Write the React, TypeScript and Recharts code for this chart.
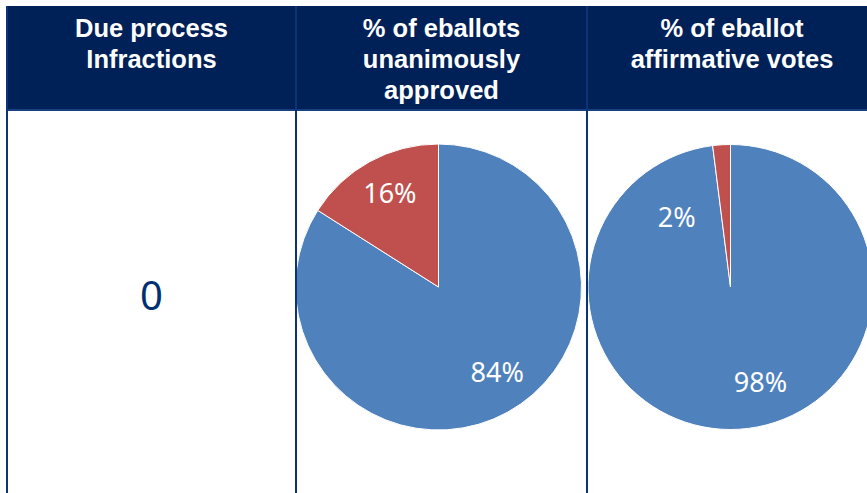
import { Cell, Pie, PieChart } from "recharts"

// header cells of the table
const headerLines = [
  ["Due process", "Infractions"],
  ["% of eballots", "unanimously", "approved"],
  ["% of eballot", "affirmative votes"],
]

const infractions = 0

const unanimousNames = ["Unanimously approved", "Not unanimous"]
const unanimousValues = [84, 16]

const affirmativeNames = ["Affirmative", "Other"]
const affirmativeValues = [98, 2]

const sliceColors = ["#4F81BD", "#C0504D"]

const NAVY = "#002157"
const LINE = "#0b3478"
const W = 867
const H = 493
// column edges of the table (the last one runs past the page)
const COLS = [7, 296, 587, 877]
const HEAD_TOP = 6
const HEAD_BOTTOM = 110

const toRows = (names: string[], values: number[]) =>
  names.map((name, i) => ({ name, value: values[i] }))

interface LabelPlacement {
  shift: number[]
  dist: number[]
}

// Excel nudges its labels, so each pie gets its own small angle shift
const unanimousPlacement: LabelPlacement = { shift: [6, -1.5], dist: [103, 106] }
const affirmativePlacement: LabelPlacement = { shift: [14, 33.5], dist: [99, 89] }

function makeLabel(place: LabelPlacement) {
  return (props: any) => {
    const { cx, cy, midAngle, index, value } = props
    const a = ((midAngle + place.shift[index]) * Math.PI) / 180
    const x = cx + place.dist[index] * Math.cos(a)
    const y = cy - place.dist[index] * Math.sin(a)
    return (
      <text
        x={x}
        y={y}
        fill="#ffffff"
        textAnchor="middle"
        dominantBaseline="central"
        fontSize={27}
        fontFamily="'Noto Sans', sans-serif"
      >
        {value}%
      </text>
    )
  }
}

export default function App() {
  return (
    <div
      style={{
        position: "absolute",
        left: 0,
        top: 0,
        width: W,
        height: H,
        overflow: "hidden",
        background: "#ffffff",
      }}
    >
      <div
        style={{
          position: "absolute",
          left: COLS[0] - 1,
          top: HEAD_TOP,
          width: COLS[3] - COLS[0] + 1,
          height: HEAD_BOTTOM - HEAD_TOP,
          background: NAVY,
        }}
      />
      {headerLines.map((lines, i) => (
        <div
          key={i}
          style={{
            position: "absolute",
            left: COLS[i],
            top: 13,
            width: COLS[i + 1] - COLS[i],
            textAlign: "center",
            color: "#ffffff",
            fontFamily: "'Liberation Sans', Arial, sans-serif",
            fontWeight: "bold",
            fontSize: 25.5,
            lineHeight: "31px",
          }}
        >
          {lines.map((l) => (
            <div key={l}>{l}</div>
          ))}
        </div>
      ))}

      <div style={{ position: "absolute", left: 0, top: 0 }}>
        <PieChart width={W} height={H} margin={{ top: 0, right: 0, bottom: 0, left: 0 }}>
          <Pie
            data={toRows(unanimousNames, unanimousValues)}
            dataKey="value"
            nameKey="name"
            cx={438.5}
            cy={287}
            outerRadius={143}
            startAngle={90}
            endAngle={-270}
            stroke="#ffffff"
            strokeWidth={1}
            labelLine={false}
            label={makeLabel(unanimousPlacement)}
            isAnimationActive={false}
          >
            {unanimousValues.map((_, i) => (
              <Cell key={i} fill={sliceColors[i]} />
            ))}
          </Pie>
          <Pie
            data={toRows(affirmativeNames, affirmativeValues)}
            dataKey="value"
            nameKey="name"
            cx={730.5}
            cy={287}
            outerRadius={142.5}
            startAngle={90}
            endAngle={-270}
            stroke="#ffffff"
            strokeWidth={1}
            labelLine={false}
            label={makeLabel(affirmativePlacement)}
            isAnimationActive={false}
          >
            {affirmativeValues.map((_, i) => (
              <Cell key={i} fill={sliceColors[i]} />
            ))}
          </Pie>
        </PieChart>
      </div>

      <svg
        width={W}
        height={H}
        style={{ position: "absolute", left: 0, top: 0, pointerEvents: "none" }}
      >
        <line x1={COLS[0] - 1} x2={W} y1={HEAD_BOTTOM} y2={HEAD_BOTTOM} stroke="#173f82" strokeWidth={2} />
        {COLS.slice(0, 3).map((x) => (
          <line key={x} x1={x} x2={x} y1={HEAD_TOP} y2={H} stroke={LINE} strokeWidth={2} />
        ))}
        <text
          x={(COLS[0] + COLS[1]) / 2}
          y={294}
          fill="#003070"
          textAnchor="middle"
          dominantBaseline="central"
          fontSize={40}
          fontFamily="'Noto Sans', sans-serif"
        >
          {infractions}
        </text>
      </svg>
    </div>
  )
}
